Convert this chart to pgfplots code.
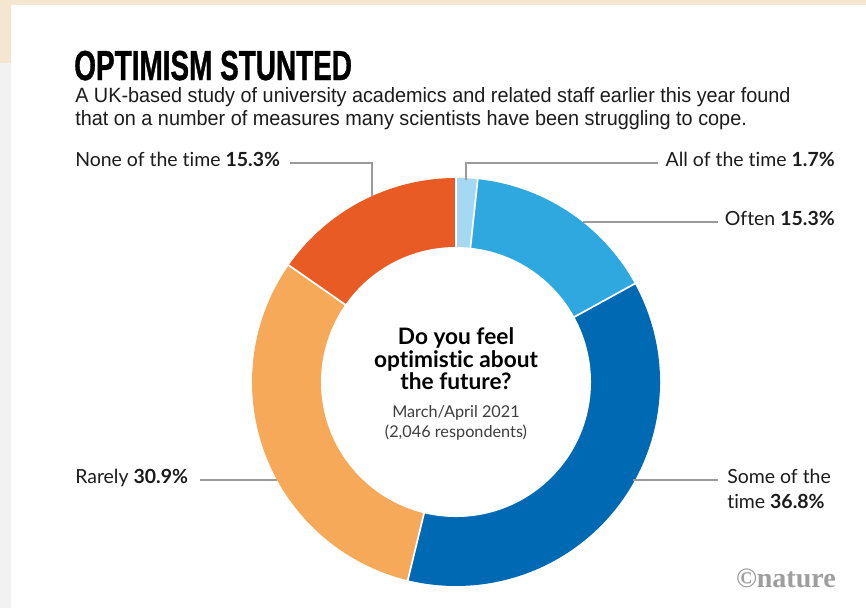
\documentclass[border=0pt]{standalone}
\usepackage{pgfplots}
\usepackage{pgfplotstable}
\pgfplotsset{compat=1.18}
\usepackage{fontspec}
\setmainfont{Lato}[Ligatures=NoCommon]
\newfontfamily\titlefont[FakeStretch=0.665, FakeBold=0.8]{Liberation Sans}
\newfontfamily\subfont[FakeStretch=0.96]{Liberation Sans}
\newfontfamily\logofont{Liberation Serif}
\definecolor{cA}{HTML}{A5D9F3}
\definecolor{cB}{HTML}{2FA8E0}
\definecolor{cC}{HTML}{0069B4}
\definecolor{cD}{HTML}{F5A959}
\definecolor{cE}{HTML}{E85B25}
\definecolor{beige}{HTML}{F5E6CF}
\definecolor{leader}{HTML}{9A9A9A}
\definecolor{ink}{HTML}{1C1C1C}
\pgfplotstableread{
share col
1.7 cA
15.3 cB
36.8 cC
30.9 cD
15.3 cE
}\donut
\begin{document}
\begin{tikzpicture}
\begin{axis}[x=0.75pt, y=0.75pt, y dir=reverse,
  xmin=0, xmax=866, ymin=0, ymax=608, hide axis, clip=false]
\pgfplotsextra{
  % background
  \fill[beige] (axis cs:0,0) rectangle (axis cs:866,608);
  \fill[white!95!black] (axis cs:0,63) rectangle (axis cs:11,608);
  \fill[white] (axis cs:11,5) rectangle (axis cs:866,608);
  % donut slices
  \gdef\cum{0}
  \foreach \i in {0,...,4}{
    \pgfplotstablegetelem{\i}{share}\of\donut \let\v\pgfplotsretval
    \pgfplotstablegetelem{\i}{col}\of\donut \let\c\pgfplotsretval
    \pgfmathsetmacro\sa{90-3.6*\cum}
    \pgfmathsetmacro\sb{90-3.6*(\cum+\v)}
    \fill[\c] (axis cs:456,382) -- ++(\sa:153pt) arc[start angle=\sa, end angle=\sb, radius=153pt] -- cycle;
    \pgfmathsetmacro\newcum{\cum+\v}\xdef\cum{\newcum}
  }
  \gdef\cum{0}
  \foreach \i in {0,...,4}{
    \pgfplotstablegetelem{\i}{share}\of\donut \let\v\pgfplotsretval
    \pgfmathsetmacro\sa{90-3.6*\cum}
    \draw[white, line width=1.3pt] (axis cs:456,382) -- ++(\sa:154pt);
    \pgfmathsetmacro\newcum{\cum+\v}\xdef\cum{\newcum}
  }
  \fill[white] (axis cs:456,382) circle[radius=101.25pt];
  % leader lines
  \draw[leader, line width=0.9pt] (axis cs:290,163) -- (axis cs:372,163) -- (axis cs:372,196);
  \draw[leader, line width=0.9pt] (axis cs:658,163) -- (axis cs:466,163) -- (axis cs:466,180);
  \draw[leader, line width=0.9pt] (axis cs:583,222) -- (axis cs:718,222);
  \draw[leader, line width=0.9pt] (axis cs:633,480) -- (axis cs:718,480);
  \draw[leader, line width=0.9pt] (axis cs:200,480) -- (axis cs:277,480);
}
% title and subtitle
\node[anchor=base west, inner sep=0pt, font=\titlefont\bfseries\fontsize{31.5}{32}\selectfont, text=black] at (axis cs:74,80) {OPTIMISM STUNTED};
\node[anchor=base west, inner sep=0pt, font=\subfont\fontsize{15.5}{17}\selectfont, text=ink] at (axis cs:75,102) {A UK-based study of university academics and related staff earlier this year found};
\node[anchor=base west, inner sep=0pt, font=\subfont\fontsize{15.5}{17}\selectfont, text=ink] at (axis cs:75,125) {that on a number of measures many scientists have been struggling to cope.};
% labels
\node[anchor=mid west, inner sep=0pt, font=\fontsize{14.6}{16}\selectfont, text=ink] at (axis cs:75,163) {None of the time \textbf{15.3\%}};
\node[anchor=mid east, inner sep=0pt, font=\fontsize{14.6}{16}\selectfont, text=ink] at (axis cs:835,163) {All of the time \textbf{1.7\%}};
\node[anchor=mid east, inner sep=0pt, font=\fontsize{14.6}{16}\selectfont, text=ink] at (axis cs:835,222) {Often \textbf{15.3\%}};
\node[anchor=mid west, inner sep=0pt, font=\fontsize{14.6}{16}\selectfont, text=ink] at (axis cs:75,480) {Rarely \textbf{30.9\%}};
\node[anchor=mid west, inner sep=0pt, font=\fontsize{14.6}{16}\selectfont, text=ink] at (axis cs:727,480) {Some of the};
\node[anchor=base west, inner sep=0pt, font=\fontsize{14.6}{16}\selectfont, text=ink] at (axis cs:727,508) {time \textbf{36.8\%}};
% centre text
\node[anchor=base, inner sep=0pt, font=\bfseries\fontsize{17}{19}\selectfont, text=black] at (axis cs:456,344) {Do you feel};
\node[anchor=base, inner sep=0pt, font=\bfseries\fontsize{17}{19}\selectfont, text=black] at (axis cs:456,367) {optimistic about};
\node[anchor=base, inner sep=0pt, font=\bfseries\fontsize{17}{19}\selectfont, text=black] at (axis cs:456,389) {the future?};
\node[anchor=base, inner sep=0pt, font=\fontsize{12.2}{14}\selectfont, text=ink!85] at (axis cs:456,417) {March/April 2021};
\node[anchor=base, inner sep=0pt, font=\fontsize{12.2}{14}\selectfont, text=ink!85] at (axis cs:456,437) {(2,046 respondents)};
% logo
\node[anchor=base east, inner sep=0pt, font=\logofont\bfseries\fontsize{21}{22}\selectfont, text=black!38] at (axis cs:836,587) {\char"00A9 nature};
\end{axis}
\end{tikzpicture}
\end{document}
